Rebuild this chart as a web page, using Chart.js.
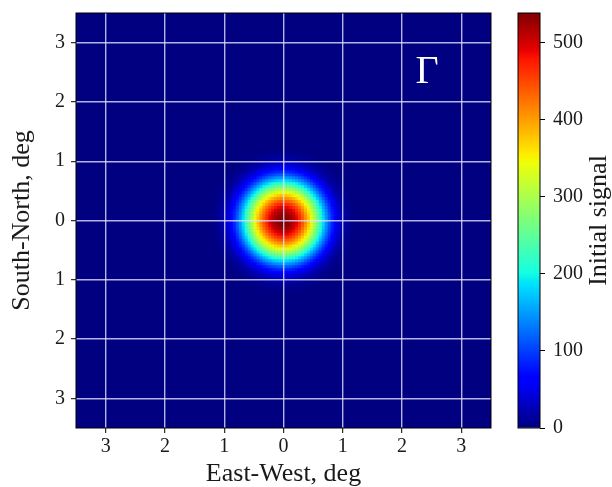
<!DOCTYPE html>
<html>
<head>
<meta charset="utf-8">
<script src="https://cdn.jsdelivr.net/npm/chart.js@4.4.1/dist/chart.umd.min.js"></script>
<style>
  html, body { margin: 0; padding: 0; background: #fff; overflow: hidden; }
  #wrap { position: relative; width: 612px; height: 487px; }
  #mapBox { position: absolute; left: 0; top: 0; width: 500px; height: 487px; }
  #barBox { position: absolute; left: 500px; top: 0; width: 112px; height: 487px; }
</style>
</head>
<body>
<div id="wrap">
  <div id="mapBox"><canvas id="beamMap"></canvas></div>
  <div id="barBox"><canvas id="colorBar"></canvas></div>
</div>
<script>
// radial beam profile: signal against offset from the beam centre (deg)
const profileRadius = [0, 0.1, 0.2, 0.3, 0.4, 0.5, 0.6, 0.7, 0.8, 0.9, 1.0, 1.1, 1.2, 1.3];
const profileSignal = [538, 530, 505, 457, 395, 325, 245, 165, 100, 52, 22, 8, 2, 0];
const beamCentre = [0, 0];
const mapHalfWidth = 3.5;
const cellStep = 0.05;
const axisTicks = [-3, -2, -1, 0, 1, 2, 3];
const signalTicks = [0, 100, 200, 300, 400, 500];
const signalMax = 538;
const panelLabel = 'Γ';

const SERIF = '"Liberation Serif", "DejaVu Serif", serif';
const TEXT_COLOR = '#1a1a1a';

// matplotlib 'jet' segment data
const JET = {
    r: [[0, 0], [0.35, 0], [0.66, 1], [0.89, 1], [1, 0.5]],
    g: [[0, 0], [0.125, 0], [0.375, 1], [0.64, 1], [0.91, 0], [1, 0]],
    b: [[0, 0.5], [0.11, 1], [0.34, 1], [0.65, 0], [1, 0]]
};
const JET_STOPS = [0, 0.11, 0.125, 0.34, 0.35, 0.375, 0.64, 0.65, 0.66, 0.89, 0.91, 1];

function segment(pts, t) {
    for (let i = 1; i < pts.length; i++) {
        if (t <= pts[i][0]) {
            const [t0, v0] = pts[i - 1];
            const [t1, v1] = pts[i];
            return v0 + (v1 - v0) * (t - t0) / (t1 - t0);
        }
    }
    return pts[pts.length - 1][1];
}

function jet(value) {
    const t = Math.min(1, Math.max(0, value / signalMax));
    const r = Math.round(255 * segment(JET.r, t));
    const g = Math.round(255 * segment(JET.g, t));
    const b = Math.round(255 * segment(JET.b, t));
    return `rgb(${r},${g},${b})`;
}

// look up the profile at a given radius
function signalAt(r) {
    if (r >= profileRadius[profileRadius.length - 1]) return profileSignal[profileSignal.length - 1];
    for (let i = 1; i < profileRadius.length; i++) {
        if (r <= profileRadius[i]) {
            const f = (r - profileRadius[i - 1]) / (profileRadius[i] - profileRadius[i - 1]);
            return profileSignal[i - 1] + f * (profileSignal[i] - profileSignal[i - 1]);
        }
    }
    return 0;
}

const cells = [];
const cellColors = [];
const nCells = Math.round(2 * mapHalfWidth / cellStep);
for (let i = 0; i < nCells; i++) {
    for (let j = 0; j < nCells; j++) {
        const x = -mapHalfWidth + (i + 0.5) * cellStep;
        const y = -mapHalfWidth + (j + 0.5) * cellStep;
        const s = signalAt(Math.hypot(x - beamCentre[0], y - beamCentre[1]));
        cells.push({ x: x, y: y, s: s });
        cellColors.push(jet(s));
    }
}

// rect points are drawn with side = sqrt(2) * radius; let neighbours overlap
function cellRadius(ctx) {
    const area = ctx.chart.chartArea;
    if (!area) return 2.5;
    const px = (area.right - area.left) / nCells;
    return px * 0.85;
}

const framePlugin = {
    id: 'frame',
    afterDraw(chart) {
        const { ctx, chartArea: a } = chart;
        ctx.save();
        ctx.strokeStyle = '#000';
        ctx.lineWidth = 1;
        ctx.strokeRect(a.left, a.top, a.right - a.left, a.bottom - a.top);
        ctx.restore();
    }
};

// zero-signal floor under the cells so no seams show through
const floorPlugin = {
    id: 'floor',
    beforeDatasetsDraw(chart) {
        const { ctx, chartArea: a } = chart;
        ctx.save();
        ctx.fillStyle = jet(0);
        ctx.fillRect(a.left, a.top, a.right - a.left, a.bottom - a.top);
        ctx.restore();
    }
};

const panelLabelPlugin = {
    id: 'panelLabel',
    afterDraw(chart) {
        const { ctx, scales } = chart;
        ctx.save();
        ctx.fillStyle = '#fff';
        ctx.font = '40px ' + SERIF;
        ctx.textAlign = 'center';
        ctx.textBaseline = 'middle';
        ctx.fillText(panelLabel, scales.x.getPixelForValue(2.42), scales.y.getPixelForValue(2.5));
        ctx.restore();
    }
};

const gridColor = 'rgba(225, 225, 255, 0.8)';

function axisOptions(titleText, titlePadding, fitSize, horizontal) {
    return {
        type: 'linear',
        min: -mapHalfWidth,
        max: mapHalfWidth,
        afterBuildTicks: s => { s.ticks = axisTicks.map(v => ({ value: v })); },
        afterFit: s => {
            if (horizontal) s.height = fitSize; else s.width = fitSize;
            s.paddingTop = s.paddingBottom = s.paddingLeft = s.paddingRight = 0;
        },
        grid: { z: 1, color: gridColor, lineWidth: 1.4, tickColor: '#000', tickLength: 5, tickWidth: 1 },
        border: { display: false },
        ticks: {
            color: TEXT_COLOR,
            font: { family: SERIF, size: 20 },
            padding: horizontal ? 2 : 6,
            maxRotation: 0,
            callback: v => Math.abs(v)
        },
        title: {
            display: true,
            text: titleText,
            color: TEXT_COLOR,
            font: { family: SERIF, size: 26, lineHeight: 1 },
            padding: titlePadding
        }
    };
}

new Chart(document.getElementById('beamMap'), {
    type: 'scatter',
    data: {
        datasets: [{
            data: cells,
            pointStyle: 'rect',
            pointRadius: cellRadius,
            pointHoverRadius: cellRadius,
            pointBackgroundColor: cellColors,
            pointBorderWidth: 0
        }]
    },
    options: {
        responsive: true,
        maintainAspectRatio: false,
        animation: false,
        events: [],
        layout: { padding: { left: 0, top: 13, right: 9, bottom: 0 } },
        plugins: {
            legend: { display: false },
            tooltip: { enabled: false }
        },
        scales: {
            x: axisOptions('East-West, deg', { top: 0, bottom: 0 }, 59, true),
            y: axisOptions('South-North, deg', { top: 9, bottom: 0 }, 76, false)
        }
    },
    plugins: [floorPlugin, framePlugin, panelLabelPlugin]
});

// colour bar: one floating bar from 0 to the peak, shaded with the colormap
function barGradient(ctx) {
    const { chart } = ctx;
    const ys = chart.scales.y;
    if (!chart.chartArea || !ys) return jet(0);
    const g = chart.ctx.createLinearGradient(0, ys.getPixelForValue(0), 0, ys.getPixelForValue(signalMax));
    JET_STOPS.forEach(t => g.addColorStop(t, jet(t * signalMax)));
    return g;
}

const barTitlePlugin = {
    id: 'barTitle',
    afterDraw(chart) {
        const { ctx, chartArea: a } = chart;
        ctx.save();
        ctx.translate(99, (a.top + a.bottom) / 2);
        ctx.rotate(-Math.PI / 2);
        ctx.fillStyle = TEXT_COLOR;
        ctx.font = '26px ' + SERIF;
        ctx.textAlign = 'center';
        ctx.textBaseline = 'middle';
        ctx.fillText('Initial signal', 0, 0);
        ctx.restore();
    }
};

new Chart(document.getElementById('colorBar'), {
    type: 'bar',
    data: {
        labels: ['signal'],
        datasets: [{
            data: [[0, signalMax]],
            backgroundColor: barGradient,
            borderWidth: 0,
            barPercentage: 1,
            categoryPercentage: 1
        }]
    },
    options: {
        responsive: true,
        maintainAspectRatio: false,
        animation: false,
        events: [],
        layout: { padding: { left: 18, top: 13, right: 0, bottom: 59 } },
        plugins: {
            legend: { display: false },
            tooltip: { enabled: false }
        },
        scales: {
            x: { display: false },
            y: {
                position: 'right',
                min: 0,
                max: signalMax,
                afterBuildTicks: s => { s.ticks = signalTicks.map(v => ({ value: v })); },
                afterFit: s => {
                    s.width = 72;
                    s.paddingTop = s.paddingBottom = 0;
                },
                grid: { drawOnChartArea: false, tickColor: '#000', tickLength: 5, tickWidth: 1 },
                border: { display: false },
                ticks: { color: TEXT_COLOR, font: { family: SERIF, size: 20 }, padding: 8 }
            }
        }
    },
    plugins: [framePlugin, barTitlePlugin]
});
</script>
</body>
</html>
